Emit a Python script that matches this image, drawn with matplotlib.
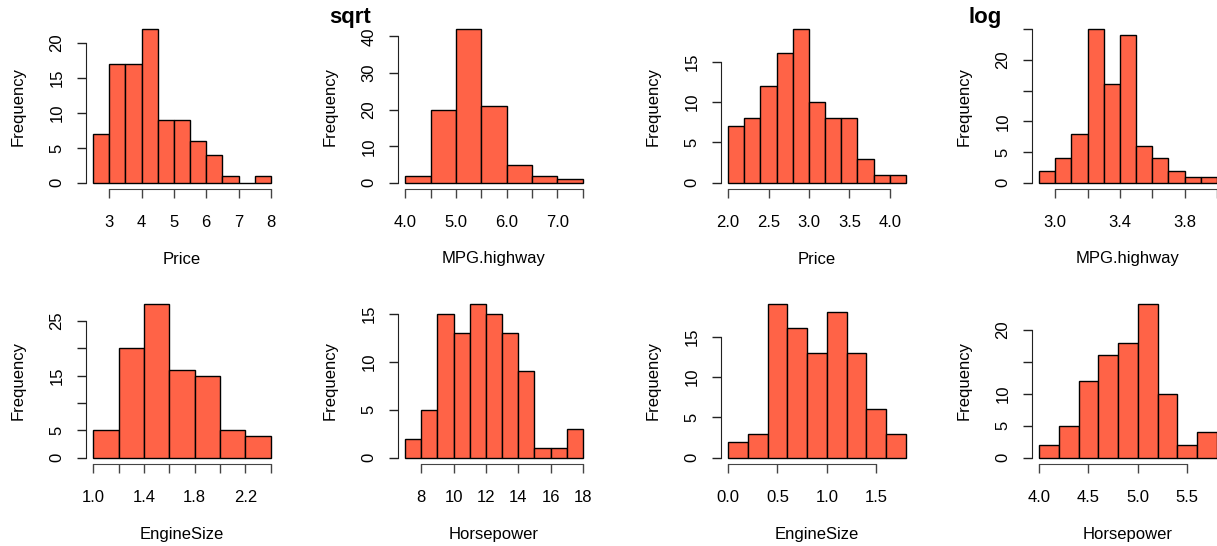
import matplotlib

matplotlib.use("Agg")
import matplotlib.pyplot as plt

plt.rcParams["font.family"] = ["Liberation Sans", "DejaVu Sans"]

FILL = "#FF6347"

# sqrt-transformed variables (bin edges + counts)
sqrt_price_edges = [2.5, 3.0, 3.5, 4.0, 4.5, 5.0, 5.5, 6.0, 6.5, 7.0, 7.5, 8.0]
sqrt_price_counts = [7, 17, 17, 22, 9, 9, 6, 4, 1, 0, 1]

sqrt_mpg_edges = [4.0, 4.5, 5.0, 5.5, 6.0, 6.5, 7.0, 7.5]
sqrt_mpg_counts = [2, 20, 42, 21, 5, 2, 1]

sqrt_engine_edges = [1.0, 1.2, 1.4, 1.6, 1.8, 2.0, 2.2, 2.4]
sqrt_engine_counts = [5, 20, 28, 16, 15, 5, 4]

sqrt_hp_edges = [7, 8, 9, 10, 11, 12, 13, 14, 15, 16, 17, 18]
sqrt_hp_counts = [2, 5, 15, 13, 16, 15, 13, 9, 1, 1, 3]

# log-transformed variables
log_price_edges = [2.0, 2.2, 2.4, 2.6, 2.8, 3.0, 3.2, 3.4, 3.6, 3.8, 4.0, 4.2]
log_price_counts = [7, 8, 12, 16, 19, 10, 8, 8, 3, 1, 1]

log_mpg_edges = [2.9, 3.0, 3.1, 3.2, 3.3, 3.4, 3.5, 3.6, 3.7, 3.8, 3.9, 4.0]
log_mpg_counts = [2, 4, 8, 25, 16, 24, 6, 4, 2, 1, 1]

log_engine_edges = [0.0, 0.2, 0.4, 0.6, 0.8, 1.0, 1.2, 1.4, 1.6, 1.8]
log_engine_counts = [2, 3, 19, 16, 13, 18, 13, 6, 3]

log_hp_edges = [4.0, 4.2, 4.4, 4.6, 4.8, 5.0, 5.2, 5.4, 5.6, 5.8]
log_hp_counts = [2, 5, 12, 16, 18, 24, 10, 2, 4]

# axis ticks / labels as R drew them (skipped labels are blank)
panels = [
    # (edges, counts, xlabel, xticks, xticklabels, yticks, yticklabels, left_px, top_px)
    (sqrt_price_edges, sqrt_price_counts, "Price",
     [3, 4, 5, 6, 7, 8], ["3", "4", "5", "6", "7", "8"],
     [0, 5, 10, 15, 20], ["0", "5", "10", "15", "20"], 86, 23),
    (sqrt_mpg_edges, sqrt_mpg_counts, "MPG.highway",
     [4.0, 4.5, 5.0, 5.5, 6.0, 6.5, 7.0, 7.5], ["4.0", "", "5.0", "", "6.0", "", "7.0", ""],
     [0, 10, 20, 30, 40], ["0", "10", "20", "30", "40"], 398, 23),
    (log_price_edges, log_price_counts, "Price",
     [2.0, 2.5, 3.0, 3.5, 4.0], ["2.0", "2.5", "3.0", "3.5", "4.0"],
     [0, 5, 10, 15], ["0", "5", "10", "15"], 721, 23),
    (log_mpg_edges, log_mpg_counts, "MPG.highway",
     [3.0, 3.2, 3.4, 3.6, 3.8, 4.0], ["3.0", "", "3.4", "", "3.8", ""],
     [0, 5, 10, 15, 20, 25], ["0", "5", "10", "", "20", ""], 1032, 23),
    (sqrt_engine_edges, sqrt_engine_counts, "EngineSize",
     [1.0, 1.2, 1.4, 1.6, 1.8, 2.0, 2.2, 2.4], ["1.0", "", "1.4", "", "1.8", "", "2.2", ""],
     [0, 5, 10, 15, 20, 25], ["0", "5", "", "15", "", "25"], 86, 298),
    (sqrt_hp_edges, sqrt_hp_counts, "Horsepower",
     [8, 10, 12, 14, 16, 18], ["8", "10", "12", "14", "16", "18"],
     [0, 5, 10, 15], ["0", "5", "10", "15"], 398, 298),
    (log_engine_edges, log_engine_counts, "EngineSize",
     [0.0, 0.5, 1.0, 1.5], ["0.0", "0.5", "1.0", "1.5"],
     [0, 5, 10, 15], ["0", "5", "10", "15"], 721, 298),
    (log_hp_edges, log_hp_counts, "Horsepower",
     [4.0, 4.5, 5.0, 5.5], ["4.0", "4.5", "5.0", "5.5"],
     [0, 5, 10, 15, 20], ["0", "5", "10", "", "20"], 1032, 298),
]

W, H = 1217, 546
PW, PH = 192, 166
FS = 12

fig = plt.figure(figsize=(W / 100, H / 100), dpi=100)

for edges, counts, xlabel, xt, xtl, yt, ytl, left, top in panels:
    ax = fig.add_axes([left / W, (H - top - PH) / H, PW / W, PH / H])
    widths = [b - a for a, b in zip(edges[:-1], edges[1:])]
    ax.bar(edges[:-1], counts, width=widths, align="edge",
           color=FILL, edgecolor="black", linewidth=1.0)

    # R style: 4% padding around the data range, axes only span the ticks
    xr = edges[-1] - edges[0]
    ax.set_xlim(edges[0] - 0.04 * xr, edges[-1] + 0.04 * xr)
    ymax = max(counts)
    ax.set_ylim(-0.04 * ymax, 1.04 * ymax)

    for side in ("top", "right"):
        ax.spines[side].set_visible(False)
    ax.spines["left"].set_bounds(yt[0], yt[-1])
    ax.spines["bottom"].set_bounds(xt[0], xt[-1])
    ax.spines["left"].set_color("#222222")
    ax.spines["bottom"].set_color("#444444")

    ax.set_xticks(xt)
    ax.set_xticklabels(xtl, fontsize=FS)
    ax.set_yticks(yt)
    ax.set_yticklabels(ytl, fontsize=FS, rotation=90, va="center")
    ax.tick_params(axis="x", length=6.5, width=1, pad=12, color="#444444")
    ax.tick_params(axis="y", length=6.5, width=1, pad=9, color="#222222")

    ax.set_xlabel(xlabel, fontsize=FS, va="center")
    ax.xaxis.set_label_coords(0.5, -70 / PH)
    ax.set_ylabel("Frequency", fontsize=FS, va="center")
    ax.yaxis.set_label_coords(-68 / PW, 0.5)

fig.text(350 / W, 1 - 17 / H, "sqrt", fontsize=16, fontweight="bold",
         ha="center", va="center")
fig.text(985 / W, 1 - 17 / H, "log", fontsize=16, fontweight="bold",
         ha="center", va="center")

fig.savefig("out.png", dpi=100)
